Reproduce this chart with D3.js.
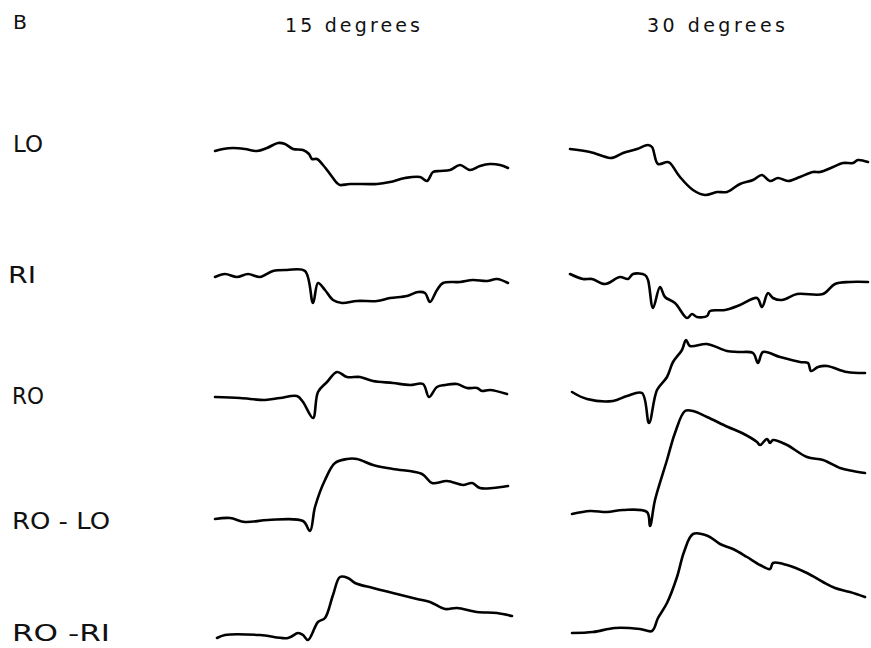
<!DOCTYPE html>
<html>
<head>
<meta charset="utf-8">
<script src="https://cdn.jsdelivr.net/npm/d3@7"></script>
<style>
  html, body { margin: 0; padding: 0; background: #fff; }
  svg { display: block; }
  text { font-family: "DejaVu Sans", "Liberation Sans", sans-serif; fill: #111; }
</style>
</head>
<body>
<svg id="chart" width="871" height="648"></svg>
<script>
// ---- data: time (arbitrary units, 0-300) vs. response amplitude (arbitrary units) ----
const panelLabel = "B";
const conditions = ["15 degrees", "30 degrees"];
const traceNames = ["LO", "RI", "RO", "RO - LO", "RO -RI"];

const lo15 = [[0,-1],[8,1],[18,2],[30,1],[42,-1],[52,2],[63,7],[70,6],[78,1],[88,0],[94,-4],[97,-9],[102,-9],[108,-15],[112,-20],[118,-28],[122,-33],[125,-35],[135,-34],[162,-34],[175,-32],[190,-28],[205,-27],[212,-31],[218,-22],[225,-21],[235,-20],[245,-15],[255,-20],[265,-16],[275,-14],[285,-15],[293,-18]];
const lo30 = [[2,1],[22,-2],[42,-8],[47,-7],[55,-3],[69,1],[80,5],[84,3],[90,-14],[99,-12],[102,-13],[112,-27],[125,-40],[137,-45],[149,-42],[159,-42],[172,-34],[185,-30],[194,-25],[202,-31],[210,-28],[220,-31],[232,-27],[245,-22],[252,-22],[265,-17],[275,-13],[285,-13],[290,-10],[300,-12]];
const ri15 = [[0,-2],[10,1],[22,-2],[33,1],[45,-2],[58,4],[72,5],[90,4],[98,-28],[103,-8],[110,-15],[118,-25],[127,-28],[142,-26],[162,-26],[175,-23],[192,-21],[203,-17],[210,-18],[215,-27],[222,-15],[228,-8],[245,-7],[258,-5],[272,-6],[282,-4],[293,-8]];
const ri30 = [[2,1],[15,-4],[24,-4],[37,-9],[52,-2],[60,-4],[65,1],[77,0],[80,-5],[85,-33],[92,-12],[97,-22],[107,-28],[119,-43],[124,-39],[129,-42],[139,-41],[142,-36],[157,-35],[172,-30],[189,-23],[194,-32],[200,-18],[205,-23],[214,-25],[229,-19],[255,-19],[267,-9],[282,-7],[300,-7]];
const ro15 = [[0,0],[25,-1],[50,-3],[65,-1],[82,1],[88,-5],[98,-21],[103,5],[112,15],[122,25],[132,20],[145,20],[158,16],[178,14],[195,12],[208,13],[214,0],[222,10],[230,12],[242,13],[252,9],[262,9],[267,6],[275,7],[292,3]];
const ro30 = [[4,5],[19,-2],[45,-4],[59,1],[74,4],[81,-26],[89,7],[99,20],[105,35],[114,47],[118,57],[122,51],[139,53],[159,46],[170,45],[185,44],[190,34],[195,45],[212,40],[232,35],[240,34],[243,26],[250,30],[259,31],[279,25],[297,24]];
const rolo15 = [[0,0],[15,1],[30,-3],[53,-1],[88,-2],[95,-12],[100,12],[110,39],[120,56],[132,60],[142,60],[158,54],[178,50],[207,45],[217,36],[232,38],[248,34],[257,36],[265,31],[278,31],[293,33]];
const rolo30 = [[4,5],[22,8],[39,7],[55,9],[79,7],[82,-7],[87,19],[99,59],[107,86],[117,108],[125,108],[139,102],[160,92],[174,86],[189,77],[192,74],[199,80],[202,76],[205,79],[219,74],[239,62],[255,59],[272,51],[285,48],[297,46]];
const rori15 = [[2,-4],[10,-1],[45,-1],[73,-4],[83,1],[88,-1],[93,-6],[103,12],[110,16],[118,39],[125,57],[133,56],[140,51],[158,46],[182,40],[202,35],[215,32],[230,25],[242,26],[262,22],[282,21],[297,18]];
const rori30 = [[4,1],[25,2],[47,6],[72,5],[84,3],[90,16],[99,31],[109,57],[116,82],[125,100],[140,98],[152,90],[165,85],[179,77],[192,69],[202,65],[205,71],[219,69],[239,61],[255,52],[267,46],[282,42],[297,37]];

const traces15 = [lo15, ri15, ro15, rolo15, rori15];
const traces30 = [lo30, ri30, ro30, rolo30, rori30];

// ---- layout ----
const svg = d3.select("#chart");
const rowBase = [150, 275, 397, 519, 634];
const colRange = [[215, 515], [568, 868]];
const colTitleX = [285, 647];
const colTitleW = [135, 138];

const xScales = colRange.map(r => d3.scaleLinear().domain([0, 300]).range(r));
const yScales = rowBase.map(b => d3.scaleLinear().domain([-60, 120]).range([b + 60, b - 120]));

svg.append("text").attr("x", 13).attr("y", 29).attr("font-size", 19)
  .attr("textLength", 14).attr("lengthAdjust", "spacingAndGlyphs").text(panelLabel);

conditions.forEach((c, i) => {
  svg.append("text")
    .attr("x", colTitleX[i]).attr("y", 32)
    .attr("font-size", 19)
    .attr("textLength", colTitleW[i])
    .attr("lengthAdjust", "spacing")
    .text(c);
});

const labelY = [152, 283, 404, 529, 641];
const labelX = [13, 8, 12, 12, 12];
const labelW = [30, 28, 32, 98, 98];
traceNames.forEach((n, i) => {
  svg.append("text")
    .attr("x", labelX[i]).attr("y", labelY[i])
    .attr("font-size", 23)
    .attr("textLength", labelW[i])
    .attr("lengthAdjust", "spacingAndGlyphs")
    .style("white-space", "pre")
    .text(n);
});

[traces15, traces30].forEach((set, ci) => {
  set.forEach((tr, ri) => {
    const line = d3.line()
      .x(d => xScales[ci](d[0]))
      .y(d => yScales[ri](d[1]))
      .curve(d3.curveCatmullRom.alpha(0.5));
    svg.append("path")
      .datum(tr)
      .attr("d", line)
      .attr("fill", "none")
      .attr("stroke", "#000")
      .attr("stroke-width", 2.6)
      .attr("stroke-linejoin", "round")
      .attr("stroke-linecap", "round");
  });
});
</script>
</body>
</html>
